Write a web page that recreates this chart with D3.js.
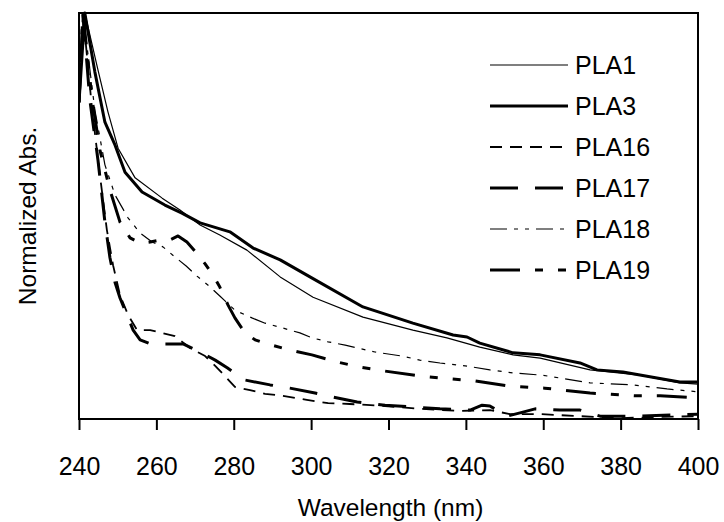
<!DOCTYPE html>
<html>
<head>
<meta charset="utf-8">
<script src="https://cdn.jsdelivr.net/npm/d3@7"></script>
<style>
  body { margin: 0; background: #fff; }
  text { font-family: Arial, "Liberation Sans", sans-serif; fill: #000; }
</style>
</head>
<body>
<svg id="chart" width="724" height="522"></svg>
<script>
// x ticks (nm)
let xTicks = [240, 260, 280, 300, 320, 340, 360, 380, 400];

// spectra: [wavelength, normalized abs]
let pla1 = [[240,0.78],[241.5,1.0],[244.9,0.86],[247.5,0.756],[250.1,0.667],[254.5,0.594],[261.5,0.544],
  [266.1,0.515],[271.3,0.478],[276.4,0.453],[283.4,0.416],[292,0.35],[300.5,0.30],[313.4,0.251],
  [326.3,0.219],[335.1,0.20],[343.6,0.177],[352.2,0.158],[359.2,0.15],[372.1,0.121],[385,0.108],
  [395.3,0.089],[400,0.086]];
let pla3 = [[240,0.78],[241.5,1.0],[244.1,0.855],[246.7,0.731],[249.3,0.675],[251.9,0.608],[256.3,0.559],
  [262.2,0.527],[266.6,0.507],[271.3,0.483],[279,0.461],[285,0.421],[292,0.392],[299.7,0.35],
  [313.4,0.276],[326.3,0.236],[336.7,0.207],[340.3,0.202],[343.6,0.187],[352.2,0.163],[359.2,0.158],
  [369.5,0.138],[373.9,0.121],[380.6,0.116],[389.4,0.101],[395.3,0.091],[400,0.091]];
let pla16 = [[240,0.78],[241,1.0],[243.4,0.761],[245.4,0.601],[247.2,0.466],[248.8,0.379],[250.6,0.305],
  [252.7,0.256],[255,0.219],[258.4,0.219],[261.5,0.212],[264.8,0.204],[268.7,0.175],[272.6,0.155],
  [275.2,0.131],[277.7,0.106],[280.3,0.079],[284.2,0.071],[288.1,0.062],[292.7,0.057],[298.9,0.047],
  [304.4,0.039],[310,0.037],[319.1,0.032],[328.1,0.025],[338.5,0.02],[346.2,0.022],[351.4,0.012],
  [359.2,0.012],[369.5,0.007],[379.8,0.002],[390.2,0.005],[400,0.007]];
let pla17 = [[240,0.78],[241,1.0],[242.8,0.786],[244.9,0.638],[246.7,0.485],[248,0.397],[249.3,0.337],
  [250.6,0.298],[252.4,0.256],[254,0.219],[255.8,0.195],[258.4,0.185],[266.9,0.185],[271.3,0.165],
  [275.2,0.145],[278.3,0.126],[282.9,0.096],[289.4,0.084],[294.5,0.076],[301,0.064],[305.7,0.054],
  [311.9,0.042],[319.1,0.034],[325.5,0.03],[333.3,0.025],[341.1,0.022],[344.2,0.034],[346.2,0.032],
  [350.6,0.007],[354,0.015],[357.9,0.025],[364.3,0.022],[369.5,0.022],[374.7,0.007],[385,0.007],
  [392.8,0.01],[400,0.012]];
let pla18 = [[240,0.78],[241,1.0],[244.1,0.761],[246.7,0.626],[249.3,0.552],[252.7,0.495],[255.8,0.458],
  [258.9,0.436],[261.7,0.424],[264.8,0.399],[267.7,0.377],[270.5,0.352],[273.3,0.33],[276.4,0.303],
  [280.3,0.268],[284.7,0.249],[288.1,0.236],[292.7,0.224],[297.1,0.212],[300.2,0.20],[304.4,0.19],
  [308.8,0.182],[311.9,0.175],[316.5,0.165],[323.5,0.155],[328.1,0.145],[333.3,0.138],[339.8,0.131],
  [346.2,0.121],[352.7,0.113],[359.7,0.108],[364.3,0.101],[372.1,0.089],[383.2,0.084],[392,0.074],
  [400,0.067]];
let pla19 = [[240,0.78],[241,1.0],[243.4,0.786],[245.4,0.663],[248,0.564],[250.6,0.485],[253.2,0.446],
  [255.8,0.433],[258.4,0.436],[261,0.441],[263.5,0.441],[265.6,0.451],[267.9,0.436],[270.2,0.411],
  [272.6,0.382],[274.6,0.355],[276.4,0.325],[278.5,0.281],[280.3,0.249],[282.9,0.212],[285.5,0.195],
  [288.6,0.185],[294.5,0.17],[300.2,0.158],[306.9,0.14],[312.6,0.128],[319.1,0.118],[328.1,0.106],
  [335.9,0.099],[342.3,0.094],[351.4,0.081],[360.4,0.076],[372.1,0.064],[383.7,0.057],[390.2,0.057],
  [400,0.052]];

let seriesNames = ['PLA1', 'PLA3', 'PLA16', 'PLA17', 'PLA18', 'PLA19'];
let seriesData = [pla1, pla3, pla16, pla17, pla18, pla19];

// line styles, same order as the names
let styles = [
  {w: 1.2, dash: null},
  {w: 3, dash: null},
  {w: 1.8, dash: '12,8'},
  {w: 3, dash: '28,17'},
  {w: 1.2, dash: '17,7,4,7,4,7'},
  {w: 3, dash: '30,15,8,15,8,15'},
];

let margin = {left: 79, right: 26, top: 13, bottom: 103};
let svg = d3.select('#chart');
let W = +svg.attr('width'), H = +svg.attr('height');

let x = d3.scaleLinear().domain([240, 400]).range([margin.left, W - margin.right]);
let y = d3.scaleLinear().domain([0, 1]).range([H - margin.bottom, margin.top]);

svg.append('clipPath').attr('id', 'plotClip')
  .append('rect')
    .attr('x', x(240)).attr('y', y(1) - 2)
    .attr('width', x(400) - x(240)).attr('height', y(0) - y(1) + 2);

let line = d3.line()
  .x(d => x(d[0]))
  .y(d => y(d[1]));

let curves = svg.append('g').attr('clip-path', 'url(#plotClip)');
seriesData.forEach(function(data, i) {
  curves.append('path')
    .datum(data)
    .attr('d', line)
    .attr('fill', 'none')
    .attr('stroke', '#000')
    .attr('stroke-width', styles[i].w)
    .attr('stroke-linejoin', 'round')
    .attr('stroke-dasharray', styles[i].dash);
});

// plot frame
svg.append('rect')
  .attr('x', x(240)).attr('y', y(1))
  .attr('width', x(400) - x(240)).attr('height', y(0) - y(1))
  .attr('fill', 'none').attr('stroke', '#000').attr('stroke-width', 2);

// bottom axis
let xAxis = d3.axisBottom(x).tickValues(xTicks).tickSize(11).tickPadding(27).tickFormat(d3.format('d'));
let gx = svg.append('g')
  .attr('transform', 'translate(0,' + y(0) + ')')
  .call(xAxis);
gx.select('.domain').remove();
gx.selectAll('line').attr('stroke', '#000').attr('stroke-width', 2);
gx.selectAll('text')
  .attr('font-size', 25)
  .attr('font-family', 'Arial, "Liberation Sans", sans-serif')
  .attr('fill', '#000');

// axis titles
svg.append('text')
  .attr('x', (x(240) + x(400)) / 2 + 2).attr('y', 516)
  .attr('text-anchor', 'middle')
  .attr('font-size', 24.5)
  .text('Wavelength (nm)');

svg.append('text')
  .attr('transform', 'translate(27,' + ((y(0) + y(1)) / 2) + ') rotate(-90)')
  .attr('text-anchor', 'middle')
  .attr('dominant-baseline', 'central')
  .attr('font-size', 24.5)
  .text('Normalized Abs.');

// legend
let legend = svg.append('g');
seriesNames.forEach(function(name, i) {
  let ly = 65 + i * 41;
  legend.append('line')
    .attr('x1', 490).attr('x2', 568)
    .attr('y1', ly).attr('y2', ly)
    .attr('stroke', '#000')
    .attr('stroke-width', styles[i].w)
    .attr('stroke-dasharray', styles[i].dash);
  legend.append('text')
    .attr('x', 575).attr('y', ly + 9)
    .attr('font-size', 25)
    .text(name);
});
</script>
</body>
</html>
